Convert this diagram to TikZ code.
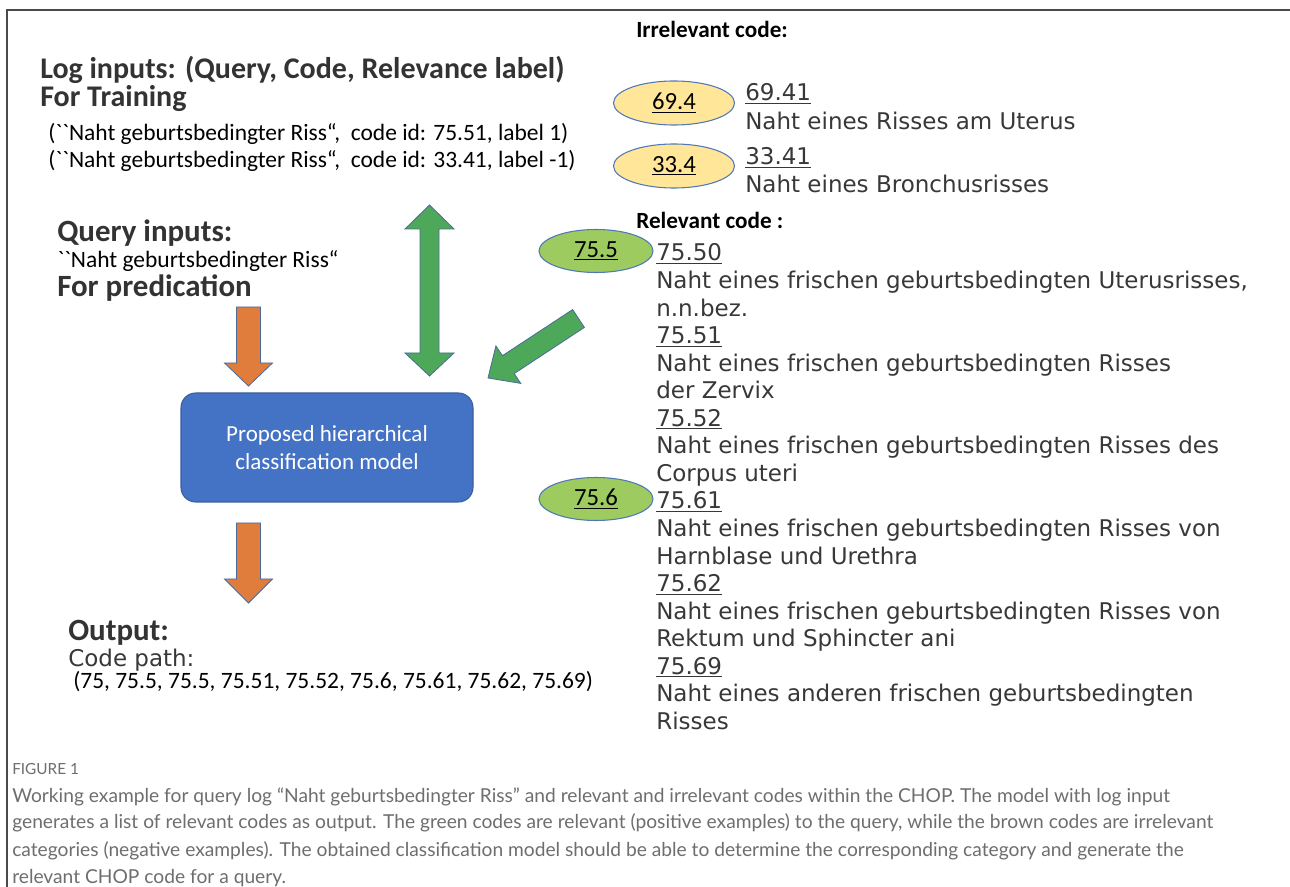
\documentclass[tikz,border=0pt]{standalone}
\usepackage{fontspec}
\setmainfont{Carlito}
\newfontfamily\listfont{DejaVu Sans}
\newfontfamily\capfont{Lato}
\usetikzlibrary{shapes.geometric}

% two plain grave accents, kept apart from the TeX quote ligatures
\newcommand\gravepair{{\addfontfeatures{Ligatures=TeXOff}``}}

\definecolor{headink}{HTML}{333333}
\definecolor{listink}{HTML}{383838}
\definecolor{capink}{HTML}{6E6E6E}
\definecolor{framegray}{HTML}{4A4A4A}
\definecolor{modelblue}{HTML}{4472C4}
\definecolor{modeledge}{HTML}{3A5F9E}
\definecolor{arroworange}{HTML}{E07D3C}
\definecolor{arrowgreen}{HTML}{4EA85A}
\definecolor{arrowedge}{HTML}{4A6A9A}
\definecolor{relfill}{HTML}{9DCB60}
\definecolor{irrfill}{HTML}{FFE699}
\definecolor{ovaledge}{HTML}{5078B8}

\tikzset{
  head/.style={font=\bfseries\fontsize{22.5}{27}\selectfont, text=headink, anchor=base west, inner sep=0pt},
  subhead/.style={head, font=\bfseries\fontsize{23.2}{27}\selectfont},
  codeline/.style={font=\fontsize{17.6}{21}\selectfont, text=black, anchor=base west, inner sep=0pt},
  colhead/.style={font=\bfseries\fontsize{17.4}{21}\selectfont, text=black, anchor=base west, inner sep=0pt},
  listtxt/.style={font=\listfont\fontsize{17.25}{21}\selectfont, text=listink, anchor=base west, inner sep=0pt},
  oval/.style={ellipse, draw=ovaledge, line width=0.8pt, inner sep=0pt, text=black,
    font=\fontsize{18.5}{20}\selectfont},
  irroval/.style={oval, fill=irrfill, minimum width=90.75pt, minimum height=33pt},
  reloval/.style={oval, fill=relfill, minimum width=85.5pt, minimum height=32.25pt},
  model/.style={draw=modeledge, fill=modelblue, line width=0.8pt, rounded corners=11pt,
    minimum width=219pt, minimum height=81.75pt, align=center, text=white,
    font=\fontsize{17.25}{21}\selectfont},
  orangearrow/.style={fill=arroworange, draw=arrowedge, line width=0.6pt},
  greenarrow/.style={fill=arrowgreen, draw=arrowedge, line width=0.6pt},
  captxt/.style={font=\capfont\fontsize{14.4}{17}\selectfont, text=capink, anchor=base west, inner sep=0pt},
}

\begin{document}
\begin{tikzpicture}[x=0.75pt,y=-0.75pt]
\useasboundingbox (0,0) rectangle (1290,887);
\fill[white] (0,0) rectangle (1290,887);

% outer frame (top and left edges)
\draw[framegray, line width=1.2pt] (7,887) -- (7,10) -- (1290,10);

% training log inputs
\node[head] (logtitle) at (40,79) {Log inputs: (Query, Code, Relevance label)};
\node[head] (training) at (40,107) {For Training};
\node[codeline] (log1) at (48,141) {(\gravepair Naht geburtsbedingter Riss“,~ code id: 75.51, label 1)};
\node[codeline] (log2) at (48,168) {(\gravepair Naht geburtsbedingter Riss“,~ code id: 33.41, label -1)};

% query inputs
\node[subhead] (qtitle) at (57,242) {Query inputs:};
\node[codeline] (qtext) at (57,268) {\gravepair Naht geburtsbedingter Riss“};
\node[subhead] (pred) at (57,297) {For predication};

% model
\node[model] (model) at (327,447.5) {Proposed hierarchical\\[0pt]classification model};

% block arrows
\draw[orangearrow] (236.5,307) -- (260.5,307) -- (260.5,363) -- (272.5,363) -- (248.5,386)
  -- (224.5,363) -- (236.5,363) -- cycle;
\draw[orangearrow] (236.5,523) -- (260.5,523) -- (260.5,579) -- (272.5,579) -- (248.5,603)
  -- (224.5,579) -- (236.5,579) -- cycle;
\draw[greenarrow] (429.5,205) -- (454,229) -- (439,229) -- (439,353) -- (454,353) -- (429.5,376)
  -- (405,353) -- (420,353) -- (420,229) -- (405,229) -- cycle;
\draw[greenarrow] (488,378) -- (520.7,383.4) -- (514.2,373.6) -- (584.4,327.4) -- (572.6,309.6)
  -- (502.4,355.7) -- (495.9,345.9) -- cycle;

% output
\node[subhead] (outtitle) at (68,641) {Output:};
\node[listtxt] (pathlabel) at (68,667) {Code path:};
\node[codeline] (path) at (73,689) {(75, 75.5, 75.5, 75.51, 75.52, 75.6, 75.61, 75.62, 75.69)};

% irrelevant codes
\node[colhead] (irrhead) at (636,38) {Irrelevant code:};
\node[irroval] (o694) at (674,103) {\underline{69.4}};
\node[listtxt] (c6941) at (745,101) {\underline{69.41}};
\node[listtxt] (d6941) at (745,130) {Naht eines Risses am Uterus};
\node[irroval] (o334) at (674,166) {\underline{33.4}};
\node[listtxt] (c3341) at (745,165) {\underline{33.41}};
\node[listtxt] (d3341) at (745,193) {Naht eines Bronchusrisses};

% relevant codes
\node[colhead] (relhead) at (636,229) {Relevant code :};
\foreach \t [count=\i from 0] in {
  {\underline{75.50}},
  {Naht eines frischen geburtsbedingten Uterusrisses,},
  {n.n.bez.},
  {\underline{75.51}},
  {Naht eines frischen geburtsbedingten Risses},
  {der Zervix},
  {\underline{75.52}},
  {Naht eines frischen geburtsbedingten Risses des},
  {Corpus uteri},
  {\underline{75.61}},
  {Naht eines frischen geburtsbedingten Risses von},
  {Harnblase und Urethra},
  {\underline{75.62}},
  {Naht eines frischen geburtsbedingten Risses von},
  {Rektum und Sphincter ani},
  {\underline{75.69}},
  {Naht eines anderen frischen geburtsbedingten},
  {Risses}}
  \node[listtxt] (r\i) at (656,{261+27.55*\i}) {\t};
\node[reloval] (o755) at (596,251) {\underline{75.5}};
\node[reloval] (o756) at (596,499) {\underline{75.6}};

% caption
\node[captxt, font=\capfont\fontsize{11.5}{13}\selectfont] (figlabel) at (12,775) {FIGURE 1};
\node[captxt] (cap1) at (12,802) {Working example for query log “Naht geburtsbedingter Riss” and relevant and irrelevant codes within the CHOP. The model with log input};
\node[captxt] (cap2) at (12,829) {generates a list of relevant codes as output. The green codes are relevant (positive examples) to the query, while the brown codes are irrelevant};
\node[captxt] (cap3) at (12,856) {categories (negative examples). The obtained classification model should be able to determine the corresponding category and generate the};
\node[captxt] (cap4) at (12,883) {relevant CHOP code for a query.};
\end{tikzpicture}
\end{document}
